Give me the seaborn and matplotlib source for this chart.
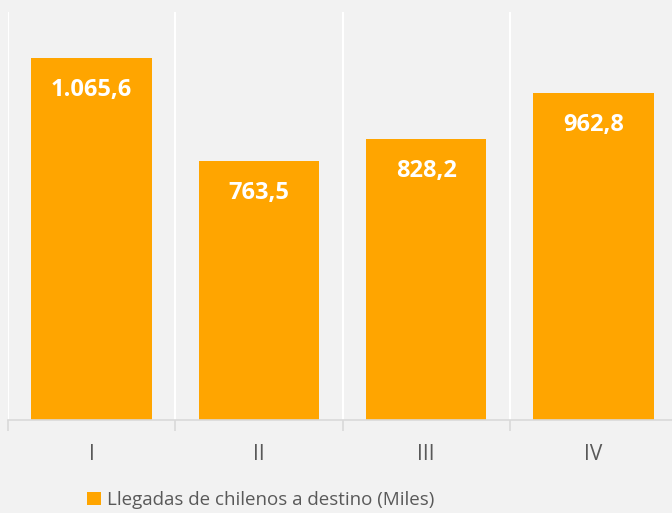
import matplotlib
matplotlib.use("Agg")
import matplotlib.pyplot as plt
import seaborn as sns
import pandas as pd
import numpy as np

# data
trimestres = ["I", "II", "III", "IV"]
llegadas = [1065.6, 763.5, 828.2, 962.8]
etiquetas = ["1.065,6", "763,5", "828,2", "962,8"]
serie = "Llegadas de chilenos a destino (Miles)"

BG = "#F2F2F2"
ORANGE = "#FFA500"
GRAY_TXT = "#595959"
AXIS = "#D9D9D9"

sns.set_theme(style="white")
plt.rcParams["font.family"] = ["Open Sans", "DejaVu Sans"]

df = pd.DataFrame({"trimestre": trimestres, "llegadas": llegadas})

fig = plt.figure(figsize=(6.72, 5.13), dpi=100)
fig.patch.set_facecolor(BG)
ax = fig.add_axes([8 / 672, 1 - 420 / 513, 669 / 672, 408 / 513])
ax.set_facecolor(BG)

sns.barplot(data=df, x="trimestre", y="llegadas", color=ORANGE, width=0.72,
            saturation=1, linewidth=0, label=serie, ax=ax)

ax.set_xlim(-0.5, 3.5)
ax.set_ylim(0, 1201)

# value labels inside the top of each bar
for patch, txt in zip(ax.patches, etiquetas):
    cx = patch.get_x() + patch.get_width() / 2
    ax.annotate(txt, (cx, patch.get_height()), xytext=(0, -23),
                textcoords="offset points", ha="center", va="center",
                color="white", fontsize=17, fontweight="bold")

# vertical gridlines and ticks on the category boundaries
ax.set_xticks(np.arange(-0.5, 4.0, 1.0), minor=True)
ax.grid(which="minor", axis="x", color="white", linewidth=1.5)
ax.set_axisbelow(True)
ax.tick_params(axis="x", which="minor", bottom=True, length=8,
               color=AXIS, width=1.2)
ax.tick_params(axis="x", which="major", bottom=True, length=0, pad=17,
               labelsize=15, labelcolor=GRAY_TXT)
ax.set_yticks([])
ax.set_xlabel("")
ax.set_ylabel("")

for side in ["top", "left", "right"]:
    ax.spines[side].set_visible(False)
ax.spines["bottom"].set_color(AXIS)
ax.spines["bottom"].set_linewidth(1.2)

leg = ax.legend(loc="center left", bbox_to_anchor=(62 / 669, -80 / 408),
                frameon=False, fontsize=13.5, handlelength=0.75,
                handleheight=0.75, handletextpad=0.3)
for t in leg.get_texts():
    t.set_color(GRAY_TXT)

fig.savefig("out.png", dpi=100, facecolor=BG)
